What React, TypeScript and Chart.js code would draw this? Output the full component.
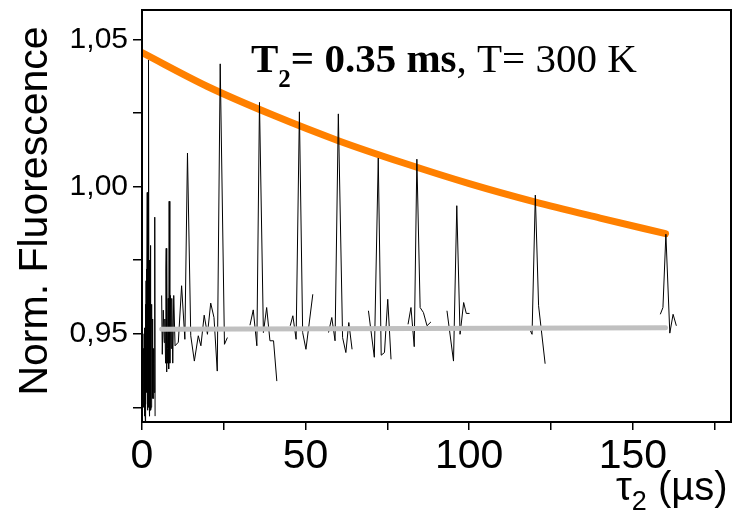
import React, { useEffect, useRef } from 'react';
import { Chart, registerables } from 'chart.js';

Chart.register(...registerables);

// ---- Data ----
// Signal segments (tau2 in µs, normalized fluorescence)
const seg1X = [0.5, 0.55, 0.6, 0.65, 0.7, 0.75, 0.8, 0.85, 0.9, 0.95, 1.0, 1.05, 1.1, 1.15, 1.2, 1.25, 1.3, 1.35, 1.4, 1.45, 1.5, 1.6, 1.65, 1.7, 1.75, 1.8, 1.85, 1.9, 1.95, 2.0, 2.1, 2.15, 2.2, 2.25, 2.3, 2.35, 2.4, 2.45, 2.5, 2.55, 2.6, 2.65, 2.7, 2.75, 2.8, 2.85, 2.9, 2.95, 3.0, 3.05, 3.1, 3.15, 3.2, 3.25, 3.3, 3.35, 3.4, 3.5, 3.6, 3.7, 3.9, 4.0];
const seg1Y = [0.945, 0.93, 0.925, 0.95, 0.948, 0.924, 0.922, 0.946, 0.952, 0.923, 0.918, 0.958, 0.96, 0.93, 0.926, 0.968, 0.972, 0.935, 0.93, 0.962, 0.95, 0.998, 0.93, 0.924, 0.972, 0.965, 0.925, 0.928, 0.96, 0.955, 1.043, 0.93, 0.925, 0.975, 0.97, 0.926, 0.922, 0.965, 0.98, 0.935, 0.93, 0.97, 0.962, 0.924, 0.925, 0.96, 0.958, 0.93, 0.935, 0.956, 0.95, 0.928, 0.93, 0.955, 0.952, 0.93, 0.928, 0.945, 0.94, 0.93, 0.9896, 0.922];

const seg2X = [6.0, 6.2, 6.5, 6.8, 7.0, 7.2, 7.3, 7.4, 7.5, 7.6, 7.7, 7.8, 8.0, 8.1, 8.2, 8.3, 8.5, 8.7, 8.9, 9.1, 9.4, 9.7, 10.1, 11.1, 12.1, 13.1, 13.9, 14.9, 16.0, 17.2, 18.0, 19.0, 20.0, 21.0, 22.0, 23.0, 23.9, 25.2, 26.1];
const seg2Y = [0.963, 0.943, 0.958, 0.947, 0.955, 0.94, 0.972, 0.979, 0.937, 0.975, 0.94, 0.945, 0.962, 0.94, 0.938, 0.995, 0.94, 0.963, 0.945, 0.962, 0.94, 0.963, 0.9459, 0.9471, 0.9663, 0.9481, 1.0114, 0.9493, 0.9407, 0.9493, 0.9459, 0.9563, 0.9498, 0.9604, 0.9555, 0.9373, 1.0417, 0.9464, 0.9487];

const seg3X = [33.0, 34.0, 35.1, 35.9, 37.1, 38.1, 39.1, 40.2, 41.2];
const seg3Y = [0.9529, 0.9581, 0.9459, 1.0286, 0.9504, 0.9589, 0.9476, 0.9476, 0.9339];

const seg4X = [45.3, 46.1, 47.1, 48.1, 49.1, 50.1, 52.2];
const seg4Y = [0.9527, 0.9561, 0.9481, 1.0254, 0.9504, 0.9447, 0.9634];

const seg5X = [57.0, 58.0, 59.0, 60.0, 61.3, 62.3, 63.2, 64.2];
const seg5Y = [0.9504, 0.9555, 0.9476, 1.0247, 0.9487, 0.9436, 0.9538, 0.9447];

const seg6X = [69.2, 71.0, 72.2, 73.1, 74.1, 75.1, 76.1];
const seg6Y = [0.9578, 0.942, 1.0097, 0.9427, 0.9436, 0.9617, 0.9413];

const seg7X = [81.3, 82.2, 83.2, 84.0, 85.0, 86.0, 87.1, 88.3];
const seg7Y = [0.9532, 0.9589, 0.9456, 1.0093, 0.9589, 0.9572, 0.9527, 0.954];

const seg8X = [93.2, 95.2, 96.2, 97.2, 98.3, 99.1, 100.1];
const seg8Y = [0.9578, 0.9407, 0.9935, 0.9498, 0.9606, 0.9569, 0.9569];

const seg9X = [118.7, 119.2, 120.2, 121.2, 123.2];
const seg9Y = [0.951, 0.9498, 0.9971, 0.9595, 0.9398];

const seg10X = [158.4, 159.2, 160.1, 161.3, 162.3, 163.3];
const seg10Y = [0.9566, 0.9589, 0.9838, 0.9502, 0.9566, 0.9527];

// Exponential decay fit (orange)
const fitX = [0, 20, 40, 60, 80, 100, 120, 140, 160];
const fitY = [1.0455, 1.034, 1.0243, 1.0156, 1.008, 1.001, 0.9948, 0.9893, 0.984];

// Baseline (grey)
const baseX = [6, 160];
const baseY = [0.9515, 0.952];

// Axes
const xTickValues = [0, 25, 50, 75, 100, 125, 150, 175];
const xTickLabels = ['0', '', '50', '', '100', '', '150', ''];
const yTickValues = [0.925, 0.95, 0.975, 1.0, 1.025, 1.05];
const yTickLabels = ['', '0,95', '', '1,00', '', '1,05'];

const yTitle = 'Norm. Fluorescence';
const xTitleSym = 'τ';
const xTitleSub = '2';
const xTitleUnit = ' (µs)';
const annoBoldMain = 'T';
const annoBoldSub = '2';
const annoBoldRest = '= 0.35 ms';
const annoNormal = ', T= 300 K';

const segX = [seg1X, seg2X, seg3X, seg4X, seg5X, seg6X, seg7X, seg8X, seg9X, seg10X];
const segY = [seg1Y, seg2Y, seg3Y, seg4Y, seg5Y, seg6Y, seg7Y, seg8Y, seg9Y, seg10Y];

function buildSignal() {
  const pts: { x: number; y: number | null }[] = [];
  segX.forEach((xs, i) => {
    if (i > 0) {
      const prev = segX[i - 1];
      pts.push({ x: (prev[prev.length - 1] + xs[0]) / 2, y: null });
    }
    xs.forEach((x, j) => pts.push({ x, y: segY[i][j] }));
  });
  return pts;
}

const toPts = (xs: number[], ys: number[]) => xs.map((x, i) => ({ x, y: ys[i] }));

function labelFor(values: number[], labels: string[], v: number) {
  const i = values.findIndex((t) => Math.abs(t - v) < 1e-6);
  return i >= 0 ? labels[i] : '';
}

const textPlugin = {
  id: 'textPlugin',
  afterDraw(chart: any) {
    const { ctx, chartArea } = chart;
    const { left, top, right, bottom } = chartArea;
    ctx.save();
    // frame
    ctx.strokeStyle = '#000';
    ctx.lineWidth = 2;
    ctx.strokeRect(left, top, right - left, bottom - top);

    ctx.fillStyle = '#000';
    ctx.textBaseline = 'alphabetic';
    ctx.textAlign = 'left';

    // annotation
    let x = 251;
    const base = 72;
    ctx.font = 'bold 41px "Liberation Serif"';
    ctx.fillText(annoBoldMain, x, base);
    x += ctx.measureText(annoBoldMain).width;
    ctx.font = 'bold 25px "Liberation Serif"';
    ctx.fillText(annoBoldSub, x, base + 15);
    x += ctx.measureText(annoBoldSub).width;
    ctx.font = 'bold 41px "Liberation Serif"';
    ctx.fillText(annoBoldRest, x, base);
    x += ctx.measureText(annoBoldRest).width;
    ctx.font = '41px "Liberation Serif"';
    ctx.fillText(annoNormal, x, base);

    // x title
    let tx = 616;
    const tb = 500;
    ctx.font = '40px "Liberation Sans"';
    ctx.fillText(xTitleSym, tx, tb);
    tx += ctx.measureText(xTitleSym).width;
    ctx.font = '27px "Liberation Sans"';
    ctx.fillText(xTitleSub, tx, tb + 10);
    tx += ctx.measureText(xTitleSub).width;
    ctx.font = '40px "Liberation Sans"';
    ctx.fillText(xTitleUnit, tx, tb);

    // y title
    ctx.translate(47, 211);
    ctx.rotate(-Math.PI / 2);
    ctx.textAlign = 'center';
    ctx.font = '41px "Liberation Sans"';
    ctx.fillText(yTitle, 0, 0);
    ctx.restore();
  },
};

export default function App() {
  const ref = useRef<HTMLCanvasElement | null>(null);
  useEffect(() => {
    if (!ref.current) return;
    const chart = new Chart(ref.current, {
      type: 'line',
      data: {
        datasets: [
          {
            label: 'baseline',
            data: toPts(baseX, baseY),
            borderColor: '#c0c0c0',
            borderWidth: 5,
            pointRadius: 0,
            borderCapStyle: 'round',
            order: 0,
          },
          {
            label: 'signal',
            data: buildSignal(),
            borderColor: '#000',
            borderWidth: 1,
            pointRadius: 0,
            spanGaps: false,
            tension: 0,
            order: 1,
          },
          {
            label: 'fit',
            data: toPts(fitX, fitY),
            borderColor: '#ff8000',
            borderWidth: 7,
            pointRadius: 0,
            cubicInterpolationMode: 'monotone',
            borderCapStyle: 'round',
            order: 2,
          },
        ] as any,
      },
      options: {
        animation: false,
        responsive: false,
        events: [],
        layout: { padding: { top: 10, right: 4, left: 0, bottom: 0 } },
        plugins: { legend: { display: false }, tooltip: { enabled: false } },
        scales: {
          x: {
            type: 'linear',
            min: 0,
            max: 180,
            afterFit: (s: any) => {
              s.height = 93;
              s.paddingLeft = 0;
              s.paddingRight = 0;
            },
            afterBuildTicks: (s: any) => {
              s.ticks = xTickValues.map((v) => ({ value: v }));
            },
            ticks: {
              autoSkip: false,
              maxRotation: 0,
              color: '#000',
              padding: 2,
              font: { family: 'Liberation Sans', size: 41 },
              callback: (v: any) => labelFor(xTickValues, xTickLabels, Number(v)),
            },
            grid: { drawOnChartArea: false, tickLength: 8, color: '#000', lineWidth: 1.5 },
            border: { display: false },
          },
          y: {
            type: 'linear',
            min: 0.92,
            max: 1.06,
            afterFit: (s: any) => {
              s.width = 142;
              s.paddingTop = 0;
              s.paddingBottom = 0;
            },
            afterBuildTicks: (s: any) => {
              s.ticks = yTickValues.map((v) => ({ value: v }));
            },
            ticks: {
              autoSkip: false,
              color: '#000',
              padding: 5,
              font: { family: 'Liberation Sans', size: 30 },
              callback: (v: any) => labelFor(yTickValues, yTickLabels, Number(v)),
            },
            grid: { drawOnChartArea: false, tickLength: 9, color: '#000', lineWidth: 1.5 },
            border: { display: false },
          },
        },
      } as any,
      plugins: [textPlugin],
    });
    return () => chart.destroy();
  }, []);
  return (
    <div style={{ position: 'fixed', left: 0, top: 0, width: 735, height: 515, background: '#fff' }}>
      <canvas ref={ref} width={735} height={515} style={{ display: 'block' }} />
    </div>
  );
}
